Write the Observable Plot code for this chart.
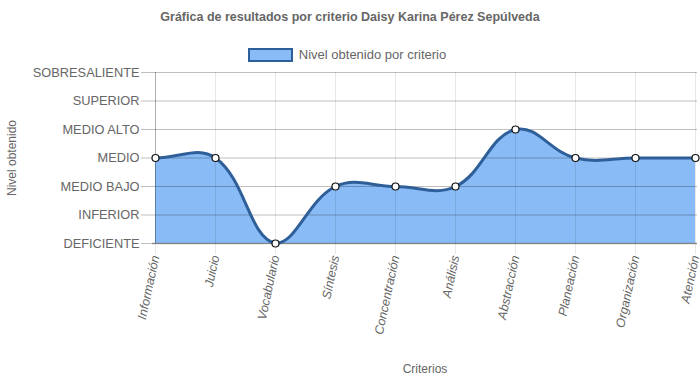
<!DOCTYPE html>
<html>
<head>
<meta charset="utf-8">
<script src="https://cdn.jsdelivr.net/npm/d3@7"></script>
<script src="https://cdn.jsdelivr.net/npm/@observablehq/plot@0.6"></script>
<style>
  html, body { margin: 0; padding: 0; background: #fff; }
  body { width: 700px; height: 382px; overflow: hidden; font-family: "Liberation Sans", Arial, sans-serif; }
  #header { position: relative; width: 700px; height: 64px; }
  #title { position: absolute; left: 0; width: 700px; top: 10px; text-align: center; font-weight: bold; font-size: 12.5px; color: #666; }
  #legend { position: absolute; left: 0; width: 700px; top: 47px; display: flex; justify-content: center; align-items: center; font-size: 13px; color: #666; }
  #legend .box { width: 41px; height: 10px; background: #89bbf6; border: 2.5px solid #2f5f98; margin-right: 6px; margin-left: -6px; }
  #chart svg { display: block; }
</style>
</head>
<body>
<div id="header">
  <div id="title">Gráfica de resultados por criterio Daisy Karina Pérez Sepúlveda</div>
  <div id="legend"><span class="box"></span><span>Nivel obtenido por criterio</span></div>
</div>
<div id="chart"></div>
<script>
const criterios = ["Información","Juicio","Vocabulario","Síntesis","Concentración","Análisis","Abstracción","Planeación","Organización","Atención"];
const niveles = ["DEFICIENTE","INFERIOR","MEDIO BAJO","MEDIO","MEDIO ALTO","SUPERIOR","SOBRESALIENTE"];
const valores = [3,3,0,2,2,2,4,3,3,3];
const nivelIdx = niveles.map((_, i) => i);

const W = 700, H = 318, mT = 8, mB = 139, mL = 152, mR = 3;
const data = criterios.map((c, i) => ({criterio: c, valor: valores[i]}));

// Chart.js-style bezier spline (tension 0.4, capped to chart area)
function chartjsCurve(context) {
  const T = 0.4, top = mT, bottom = H - mB, left = mL, right = W - mR;
  const clamp = (v, a, b) => Math.max(a, Math.min(b, v));
  let xs, ys, line;
  return {
    areaStart() { line = 0; },
    areaEnd() { line = NaN; },
    lineStart() { xs = []; ys = []; },
    point(x, y) { xs.push(+x); ys.push(+y); },
    lineEnd() {
      const n = xs.length;
      if (n) {
        const cp = [];
        for (let i = 0; i < n; i++) {
          const pi = i > 0 ? i - 1 : i, ni = i < n - 1 ? i + 1 : i;
          const d01 = Math.hypot(xs[i] - xs[pi], ys[i] - ys[pi]);
          const d12 = Math.hypot(xs[ni] - xs[i], ys[ni] - ys[i]);
          let s01 = d01 / (d01 + d12), s12 = d12 / (d01 + d12);
          if (!isFinite(s01)) s01 = 0; if (!isFinite(s12)) s12 = 0;
          const fa = T * s01, fb = T * s12;
          const dx = xs[ni] - xs[pi], dy = ys[ni] - ys[pi];
          cp.push({
            px: clamp(xs[i] - fa * dx, left, right), py: clamp(ys[i] - fa * dy, top, bottom),
            nx: clamp(xs[i] + fb * dx, left, right), ny: clamp(ys[i] + fb * dy, top, bottom)
          });
        }
        if (line) context.lineTo(xs[0], ys[0]); else context.moveTo(xs[0], ys[0]);
        for (let i = 1; i < n; i++) {
          context.bezierCurveTo(cp[i-1].nx, cp[i-1].ny, cp[i].px, cp[i].py, xs[i], ys[i]);
        }
      }
      if (line || (line !== 0 && n === 1)) context.closePath();
      line = 1 - line;
    }
  };
}

const chart = Plot.plot({
  width: W, height: H,
  marginTop: mT, marginBottom: mB, marginLeft: mL, marginRight: mR,
  style: {fontFamily: "'Liberation Sans', Arial, sans-serif", color: "#666", background: "#fff"},
  x: {type: "point", domain: criterios, padding: 0, label: null},
  y: {domain: [0, niveles.length - 1], label: null},
  marks: [
    Plot.areaY(data, {x: "criterio", y: "valor", fill: "#89bbf6", curve: chartjsCurve}),
    Plot.gridX({stroke: "#000", strokeOpacity: 0.09, strokeWidth: 1}),
    Plot.gridY(nivelIdx, {stroke: "#000", strokeOpacity: 0.25, strokeWidth: 1}),
    Plot.axisY(nivelIdx, {tickSize: 11, tickPadding: 2, tickFormat: d => niveles[d], fontSize: 12.8, stroke: "#000", strokeOpacity: 0.25, fill: "#666", label: null}),
    Plot.axisX({tickSize: 11, tickPadding: 1, tickRotate: -78, fontSize: 12.5, fontStyle: "italic", stroke: "#000", strokeOpacity: 0.09, fill: "#666", label: null}),
    Plot.ruleY([0], {stroke: "#000", strokeOpacity: 0.3, strokeWidth: 1.5}),
    Plot.ruleX([criterios[0]], {stroke: "#000", strokeOpacity: 0.25}),
    Plot.lineY(data, {x: "criterio", y: "valor", stroke: "#2f5f98", strokeWidth: 3, curve: chartjsCurve}),
    Plot.dot(data, {x: "criterio", y: "valor", r: 3.5, fill: "#fff", stroke: "#111", strokeWidth: 1.2}),
    Plot.text(["Nivel obtenido"], {frameAnchor: "left", textAnchor: "middle", dx: -140, rotate: -90, fontSize: 12, fill: "#666"}),
    Plot.text(["Criterios"], {frameAnchor: "bottom", dy: 129, fontSize: 12, fill: "#666"})
  ]
});
document.getElementById("chart").appendChild(chart);
</script>
</body>
</html>
